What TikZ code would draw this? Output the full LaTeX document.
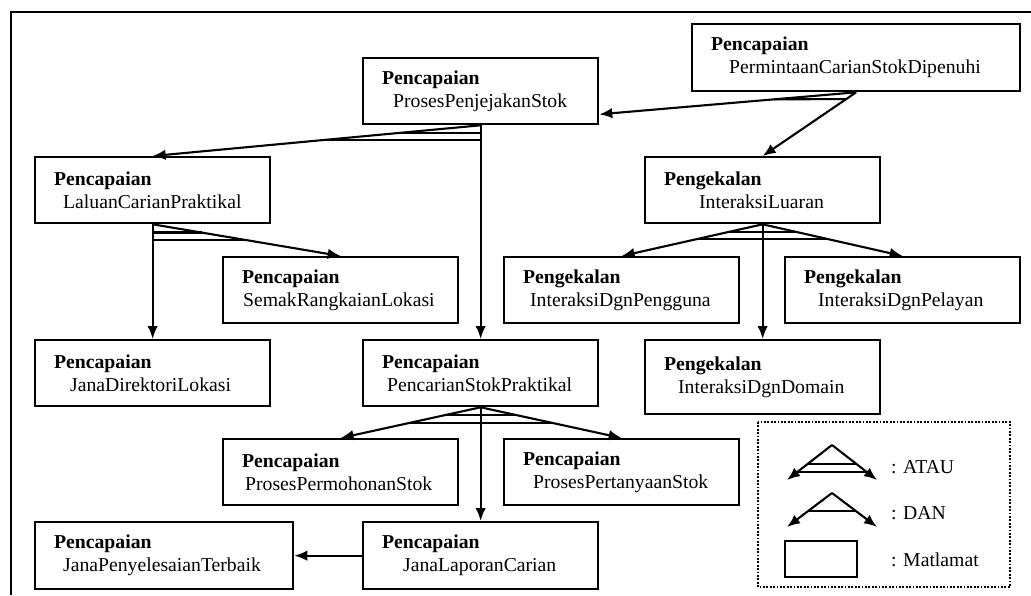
\documentclass[tikz,border=0pt]{standalone}
\usepackage{fontspec}
\setmainfont{Liberation Serif}
\usetikzlibrary{calc,arrows.meta,positioning}

\begin{document}
\begin{tikzpicture}[
    x=1pt, y=-1pt,
    >={Latex[length=13pt,width=10.5pt]},
    every node/.style={font=\fontsize{19.7}{23}\selectfont},
    goal/.style={draw, line width=2.3pt, anchor=north west, align=left,
        inner xsep=19pt, inner ysep=0pt, text width=197pt,
        minimum height=66pt},
    link/.style={line width=2.1pt},
    keylabel/.style={anchor=base west, inner sep=0pt}
]
\useasboundingbox (0,0) rectangle (1031,595);

% Outer frame (top and left only)
\draw[line width=2.3pt] (11,595) -- (11,12) -- (1031,12);

% Goal boxes
\node[goal, text width=290pt, minimum height=67pt] (permintaan) at (691,23)
    {\textbf{Pencapaian}\\\hspace*{18pt}PermintaanCarianStokDipenuhi};
\node[goal] (penjejakan) at (362,57)
    {\textbf{Pencapaian}\\\hspace*{11pt}ProsesPenjejakanStok};
\node[goal] (laluan) at (34,156)
    {\textbf{Pencapaian}\\\hspace*{9pt}LaluanCarianPraktikal};
\node[goal] (luaran) at (644,156)
    {\textbf{Pengekalan}\\\hspace*{35pt}InteraksiLuaran};
\node[goal] (semak) at (222,256)
    {\textbf{Pencapaian}\\\hspace*{1pt}SemakRangkaianLokasi};
\node[goal] (pengguna) at (503,256)
    {\textbf{Pengekalan}\\\hspace*{7pt}InteraksiDgnPengguna};
\node[goal] (pelayan) at (784,256)
    {\textbf{Pengekalan}\\\hspace*{14pt}InteraksiDgnPelayan};
\node[goal] (direktori) at (34,339)
    {\textbf{Pencapaian}\\\hspace*{16pt}JanaDirektoriLokasi};
\node[goal] (pencarian) at (362,339)
    {\textbf{Pencapaian}\\\hspace*{5pt}PencarianStokPraktikal};
\node[goal, minimum height=74pt] (domain) at (644,339)
    {\textbf{Pengekalan}\\\hspace*{14pt}InteraksiDgnDomain};
\node[goal] (permohonan) at (222,438)
    {\textbf{Pencapaian}\\\hspace*{3pt}ProsesPermohonanStok};
\node[goal] (pertanyaan) at (503,438)
    {\textbf{Pencapaian}\\\hspace*{10pt}ProsesPertanyaanStok};
\node[goal, text width=220pt, minimum height=67pt] (penyelesaian) at (34,521)
    {\textbf{Pencapaian}\\\hspace*{9pt}JanaPenyelesaianTerbaik};
\node[goal, minimum height=67pt] (laporan) at (362,521)
    {\textbf{Pencapaian}\\\hspace*{21pt}JanaLaporanCarian};

% DAN split under PermintaanCarianStokDipenuhi
\coordinate (kanan) at ([yshift=11pt]penjejakan.south east);
\draw[link,->] (permintaan.south) -- (kanan);
\draw[link,->] (permintaan.south) -- (luaran.north);
\draw[link] ($(permintaan.south)!.32!(kanan)$)
    -- ($(permintaan.south)!.106!(luaran.north)$);

% ATAU split under ProsesPenjejakanStok
\draw[link,->] (penjejakan.south) -- (laluan.north);
\draw[link,->] (penjejakan.south) -- (pencarian.north);
\path ($(penjejakan.south)!.24!(laluan.north)$) coordinate (pj1)
      ($(penjejakan.south)!.48!(laluan.north)$) coordinate (pj2);
\draw[link] (pj1) -- (pj1 -| penjejakan.south)
            (pj2) -- (pj2 -| penjejakan.south);

% ATAU split under LaluanCarianPraktikal
\draw[link,->] (laluan.south) -- (semak.north);
\draw[link,->] (laluan.south) -- (direktori.north);
\path ($(laluan.south)!.26!(semak.north)$) coordinate (lc1)
      ($(laluan.south)!.5!(semak.north)$) coordinate (lc2);
\draw[link] (lc1) -- (lc1 -| laluan.south)
            (lc2) -- (lc2 -| laluan.south);

% ATAU split under InteraksiLuaran
\draw[link,->] (luaran.south) -- (pengguna.north);
\draw[link,->] (luaran.south) -- (domain.north);
\draw[link,->] (luaran.south) -- (pelayan.north);
\draw[link] ($(luaran.south)!.235!(pengguna.north)$)
    -- ($(luaran.south)!.235!(pelayan.north)$);
\draw[link] ($(luaran.south)!.47!(pengguna.north)$)
    -- ($(luaran.south)!.47!(pelayan.north)$);

% ATAU split under PencarianStokPraktikal
\draw[link,->] (pencarian.south) -- (permohonan.north);
\draw[link,->] (pencarian.south) -- (laporan.north);
\draw[link,->] (pencarian.south) -- (pertanyaan.north);
\draw[link] ($(pencarian.south)!.24!(permohonan.north)$)
    -- ($(pencarian.south)!.24!(pertanyaan.north)$);
\draw[link] ($(pencarian.south)!.51!(permohonan.north)$)
    -- ($(pencarian.south)!.51!(pertanyaan.north)$);

% JanaLaporanCarian -> JanaPenyelesaianTerbaik
\draw[link,->] (laporan.west) -- (penyelesaian.east);

% Legend
\draw[line width=1.8pt, dash pattern=on 1.8pt off 1.6pt]
    (758,422) rectangle (1010,587);

\coordinate (ataupuncak) at (832,445);
\coordinate (atauki) at (787,480);
\coordinate (atauka) at (877,480);
\draw[link,->] (ataupuncak) -- (atauki);
\draw[link,->] (ataupuncak) -- (atauka);
\draw[link] ($(ataupuncak)!.54!(atauki)$) -- ($(ataupuncak)!.54!(atauka)$);
\draw[link] ($(ataupuncak)!.77!(atauki)$) -- ($(ataupuncak)!.77!(atauka)$);
\node[keylabel] (atau) at (891,473) {: ATAU};

\coordinate (danpuncak) at (832,493);
\coordinate (danki) at (787,527);
\coordinate (danka) at (877,527);
\draw[link,->] (danpuncak) -- (danki);
\draw[link,->] (danpuncak) -- (danka);
\draw[link] ($(danpuncak)!.53!(danki)$) -- ($(danpuncak)!.53!(danka)$);
\node[keylabel] (dan) at (891,519) {: DAN};

\node[draw, line width=2.3pt, anchor=north west, inner sep=0pt,
    minimum width=72pt, minimum height=36pt] (kotak) at (784,540) {};
\node[keylabel] (matlamat) at (891,566) {: Matlamat};

\end{tikzpicture}
\end{document}
